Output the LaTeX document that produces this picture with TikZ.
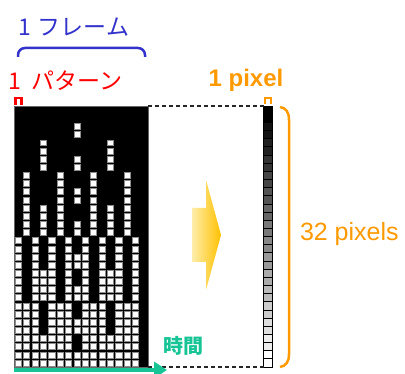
\documentclass[tikz,border=0pt]{standalone}
\usepackage{fontspec}
\setmainfont{Liberation Sans}
\newfontfamily\jpfont{Noto Sans CJK JP}
\usetikzlibrary{calc,arrows.meta}
\definecolor{myblue}{RGB}{51,51,204}
\definecolor{myred}{RGB}{255,0,0}
\definecolor{myorange}{RGB}{255,153,0}
\definecolor{myteal}{RGB}{22,196,150}
\definecolor{yellowA}{RGB}{255,238,170}
\definecolor{yellowB}{RGB}{255,192,0}
\tikzset{
  whitecell/.style={fill=white, draw=black!45, line width=0.6pt},
  graycell/.style={draw=black, line width=0.7pt},
  bracketline/.style={line width=2.2pt},
  lbl/.style={inner sep=0pt, outer sep=0pt},
  dashline/.style={black!85, line width=1.1pt, dash pattern=on 4pt off 3pt},
}
\begin{document}
\begin{tikzpicture}[x=1pt,y=-1pt]
\useasboundingbox (0,0) rectangle (405,374);
\def\cw{8.375}
\def\ch{8.156}
% frame block
\node[fill=black, draw=black!60, line width=0.6pt, minimum width=134pt, minimum height=261pt, inner sep=0pt, outer sep=0pt, anchor=north west] (frame) at (14,106) {};
\foreach \r in {0,...,31}{
  \foreach \c in {0,...,15}{
    \pgfmathtruncatemacro\hr{floor(\r/2)}
    \pgfmathtruncatemacro\w{(mod(\c,2)==0)*(\hr>=8) + (mod(\c,4)==1)*(mod(floor(\hr/4),2)==1) + (mod(\c,8)==3)*(mod(floor(\hr/2),2)==1) + (\c==7)*(mod(\hr,2)==1)}
    \ifnum\w>0
      \draw[whitecell] ({14+\c*\cw+1.2},{106+\r*\ch+1.2}) rectangle ({14+(\c+1)*\cw-1.0},{106+(\r+1)*\ch-1.0});
    \fi
  }
}
% one-pixel column
\node[draw=black, line width=0.7pt, minimum width=8.5pt, minimum height=261pt, inner sep=0pt, outer sep=0pt, anchor=north west] (col) at (263.5,106) {};
\foreach \r in {0,...,31}{
  \pgfmathtruncatemacro\g{round(floor(\r/2)*100/15)}
  \draw[graycell, fill=white!\g!black] (263.5,{106+\r*\ch}) rectangle (272,{106+(\r+1)*\ch});
}
% dashed lines
\draw[dashline] (frame.north east) -- (col.north west);
\draw[dashline] (frame.south east) -- (col.south west);
% yellow arrow
\shade[left color=yellowA, right color=yellowB] (192,208) -- (206,208) -- (206,180) -- (221,235) -- (206,290) -- (206,262) -- (192,262) -- cycle;
% time arrow
\coordinate (t0) at (14,370);
\coordinate (t1) at (167,370);
\draw[myteal, line width=3.5pt, -{Triangle[length=13pt,width=16pt]}] (t0) -- (t1);
\node[lbl, text=myteal, font=\jpfont\bfseries\fontsize{20}{24}\selectfont] (time) at (183,346) {時間};
% labels top-left
\node[lbl, anchor=base west, text=myblue, font=\jpfont\fontsize{23}{27}\selectfont] (framelbl) at (18,36) {1\hspace{7pt}フレーム};
\draw[myblue, line width=2.5pt, rounded corners=7pt] (18,57) -- (18,48) -- (145,48) -- (145,57);
\node[lbl, anchor=base west, text=myred, font=\jpfont\fontsize{23}{27}\selectfont] (patlbl) at (9,89.5) {1\hspace{10pt}パターン};
\draw[myred, bracketline] (15.5,105) -- (15.5,98) -- (21.5,98) -- (21.5,105);
% labels right
\node[lbl, anchor=base, text=myorange, font=\bfseries\fontsize{24}{28}\selectfont] (pixlbl) at (246,87) {1 pixel};
\draw[myorange, line width=2pt] (265,104) -- (265,98) -- (271,98) -- (271,104);
\draw[myorange, line width=2.5pt] (280,107) .. controls (286,108) and (289,112) .. (289,120) -- (289,354) .. controls (289,362) and (286,366) .. (280,367);
\node[lbl, anchor=base west, text=myorange, font=\fontsize{25}{29}\selectfont] (pixslbl) at (300,241) {32 pixels};
\end{tikzpicture}
\end{document}
